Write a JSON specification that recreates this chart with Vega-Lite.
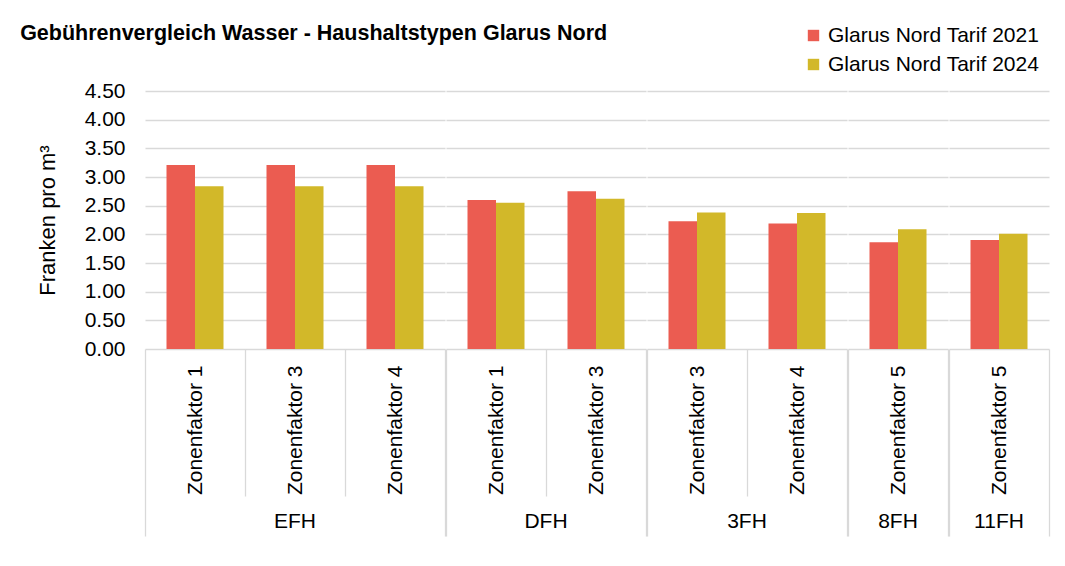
{
  "$schema": "https://vega.github.io/schema/vega-lite/v6.json",
  "padding": {"left": 20, "top": 22, "right": 20, "bottom": 5},
  "background": "white",
  "title": {"text": "Gebührenvergleich Wasser - Haushaltstypen Glarus Nord", "anchor": "start", "frame": "bounds", "font": "Liberation Sans", "fontSize": 21.5, "fontWeight": "bold", "color": "#000000", "dx": -16, "offset": -19},
  "data": {"values": [
    {"group": "EFH", "cat": "Zonenfaktor 1", "series": "Glarus Nord Tarif 2021", "value": 3.21},
    {"group": "EFH", "cat": "Zonenfaktor 1", "series": "Glarus Nord Tarif 2024", "value": 2.84},
    {"group": "EFH", "cat": "Zonenfaktor 3", "series": "Glarus Nord Tarif 2021", "value": 3.21},
    {"group": "EFH", "cat": "Zonenfaktor 3", "series": "Glarus Nord Tarif 2024", "value": 2.84},
    {"group": "EFH", "cat": "Zonenfaktor 4", "series": "Glarus Nord Tarif 2021", "value": 3.21},
    {"group": "EFH", "cat": "Zonenfaktor 4", "series": "Glarus Nord Tarif 2024", "value": 2.84},
    {"group": "DFH", "cat": "Zonenfaktor 1", "series": "Glarus Nord Tarif 2021", "value": 2.60},
    {"group": "DFH", "cat": "Zonenfaktor 1", "series": "Glarus Nord Tarif 2024", "value": 2.55},
    {"group": "DFH", "cat": "Zonenfaktor 3", "series": "Glarus Nord Tarif 2021", "value": 2.75},
    {"group": "DFH", "cat": "Zonenfaktor 3", "series": "Glarus Nord Tarif 2024", "value": 2.62},
    {"group": "3FH", "cat": "Zonenfaktor 3", "series": "Glarus Nord Tarif 2021", "value": 2.23},
    {"group": "3FH", "cat": "Zonenfaktor 3", "series": "Glarus Nord Tarif 2024", "value": 2.38},
    {"group": "3FH", "cat": "Zonenfaktor 4", "series": "Glarus Nord Tarif 2021", "value": 2.19},
    {"group": "3FH", "cat": "Zonenfaktor 4", "series": "Glarus Nord Tarif 2024", "value": 2.37},
    {"group": "8FH", "cat": "Zonenfaktor 5", "series": "Glarus Nord Tarif 2021", "value": 1.86},
    {"group": "8FH", "cat": "Zonenfaktor 5", "series": "Glarus Nord Tarif 2024", "value": 2.09},
    {"group": "11FH", "cat": "Zonenfaktor 5", "series": "Glarus Nord Tarif 2021", "value": 1.90},
    {"group": "11FH", "cat": "Zonenfaktor 5", "series": "Glarus Nord Tarif 2024", "value": 2.01}
  ]},
  "facet": {
    "column": {
      "field": "group",
      "type": "nominal",
      "sort": ["EFH", "DFH", "3FH", "8FH", "11FH"],
      "header": {"labelOrient": "bottom", "title": null, "labelFont": "Liberation Sans", "labelFontSize": 21, "labelColor": "#000000", "labelPadding": 162}
    }
  },
  "spacing": 0,
  "bounds": "flush",
  "resolve": {"scale": {"x": "independent"}},
  "spec": {
    "width": {"step": 28.5},
    "height": 258,
    "mark": {"type": "bar"},
    "encoding": {
      "x": {
        "field": "cat", "type": "nominal", "title": null, "sort": null,
        "scale": {"paddingInner": 0, "paddingOuter": 0},
        "axis": {
          "labelAngle": -90, "labelFont": "Liberation Sans", "labelFontSize": 21, "labelColor": "#000000",
          "labelAlign": "right", "labelBaseline": "middle",
          "domain": false,
          "tickBand": "extent",
          "tickColor": "#d9d9d9", "tickWidth": 1.3,
          "tickSize": {"condition": {"test": "datum.index < 0 || datum.index === 1 || datum.value == 'Zonenfaktor 5'", "value": 187}, "value": 147},
          "labelPadding": {"condition": {"test": "datum.index < 0 || datum.index === 1 || datum.value == 'Zonenfaktor 5'", "value": -171}, "value": -131}
        }
      },
      "xOffset": {"field": "series", "type": "nominal", "scale": {"paddingInner": 0, "paddingOuter": 0.7544}},
      "y": {
        "field": "value", "type": "quantitative",
        "scale": {"domain": [0, 4.5], "nice": false},
        "axis": {
          "title": "Franken pro m³", "titleFont": "Liberation Sans", "titleFontSize": 22, "titleFontWeight": "normal", "titleColor": "#000000", "titlePadding": 25,
          "values": [0, 0.5, 1, 1.5, 2, 2.5, 3, 3.5, 4, 4.5], "format": ".2f",
          "labelFont": "Liberation Sans", "labelFontSize": 21, "labelColor": "#000000", "labelPadding": 20,
          "domain": false, "ticks": false,
          "gridColor": "#d9d9d9", "gridWidth": 1.3
        }
      },
      "color": {
        "field": "series", "type": "nominal",
        "scale": {"domain": ["Glarus Nord Tarif 2021", "Glarus Nord Tarif 2024"], "range": ["#EB5C51", "#D2B829"]},
        "legend": {
          "title": null, "orient": "none", "legendX": 658, "legendY": -66,
          "symbolType": "square", "symbolSize": 130, "symbolStrokeWidth": 0,
          "labelFont": "Liberation Sans", "labelFontSize": 21, "labelColor": "#000000", "labelOffset": 4, "rowPadding": 7, "labelLimit": 400
        }
      }
    }
  },
  "config": {"view": {"stroke": null}}
}
